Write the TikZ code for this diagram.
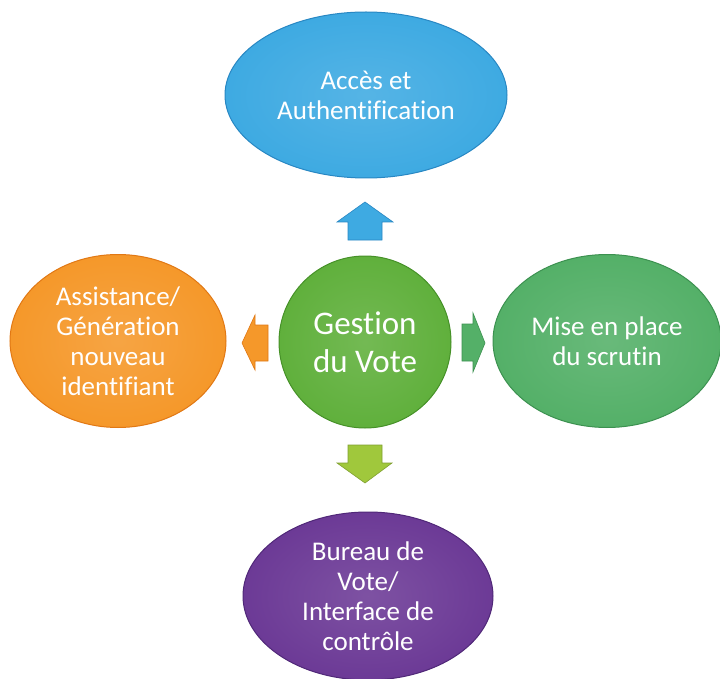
\documentclass[tikz,border=0pt]{standalone}
\usepackage{fontspec}
\setmainfont{Carlito}[Ligatures={NoCommon}]
\usetikzlibrary{shapes.geometric}
\definecolor{cblue}{RGB}{62,170,226}
\definecolor{cblueD}{RGB}{40,135,195}
\definecolor{corange}{RGB}{245,152,42}
\definecolor{corangeD}{RGB}{225,120,20}
\definecolor{cgreen}{RGB}{96,176,60}
\definecolor{cgreenD}{RGB}{70,145,40}
\definecolor{cmint}{RGB}{84,176,104}
\definecolor{cmintD}{RGB}{60,145,80}
\definecolor{cpurple}{RGB}{108,58,150}
\definecolor{cpurpleD}{RGB}{80,40,120}
\definecolor{clime}{RGB}{160,200,60}
\tikzset{
  bubble/.style={ellipse, inner sep=0pt, align=center, text=white,
    line width=1pt, font=\fontsize{27}{30}\selectfont},
  hub/.style={circle, inner sep=0pt, align=center, text=white,
    line width=1pt, font=\fontsize{33}{38}\selectfont},
  blockarrow/.style={line width=0.6pt}
}
\begin{document}
\begin{tikzpicture}[x=1pt,y=-1pt]
\useasboundingbox (0,0) rectangle (720,679);

% centre hub
\node[hub, minimum size=172pt, draw=cgreenD, inner color=cgreen!88!white, outer color=cgreen]
  (hub) at (365,342) {Gestion\\du Vote};

% surrounding modules
\node[bubble, minimum width=282pt, minimum height=166pt, draw=cblueD,
  inner color=cblue!88!white, outer color=cblue]
  (auth) at (366,95) {Accès et\\Authentification};
\node[bubble, minimum width=216pt, minimum height=173pt, draw=corangeD,
  inner color=corange!88!white, outer color=corange]
  (assist) at (118,341) {Assistance/\\Génération\\nouveau\\identifiant};
\node[bubble, minimum width=228pt, minimum height=173pt, draw=cmintD,
  inner color=cmint!88!white, outer color=cmint]
  (scrutin) at (607,341) {Mise en place\\du scrutin};
\node[bubble, minimum width=250pt, minimum height=168pt, draw=cpurpleD,
  inner color=cpurple!88!white, outer color=cpurple]
  (bureau) at (368,596) {Bureau de\\Vote/\\Interface de\\contrôle};

% block arrows from the hub
\fill[blockarrow, draw=cblueD, fill=cblue]
  (365,202) -- (393,222) -- (382,222) -- (382,240) -- (348,240) -- (348,222) -- (337,222) -- cycle;
\fill[blockarrow, draw=clime!80!black, fill=clime]
  (348,445) -- (382,445) -- (382,463) -- (392,463) -- (365,483) -- (337,463) -- (348,463) -- cycle;
\fill[blockarrow, draw=cmintD, fill=cmint]
  (462,324) -- (473,324) -- (473,313) -- (485,343) -- (473,372) -- (473,361) -- (462,361) -- cycle;
\fill[blockarrow, draw=corangeD, fill=corange]
  (268,325) -- (255,325) -- (255,315) -- (242,343) -- (255,370) -- (255,361) -- (268,361) -- cycle;
\end{tikzpicture}
\end{document}
